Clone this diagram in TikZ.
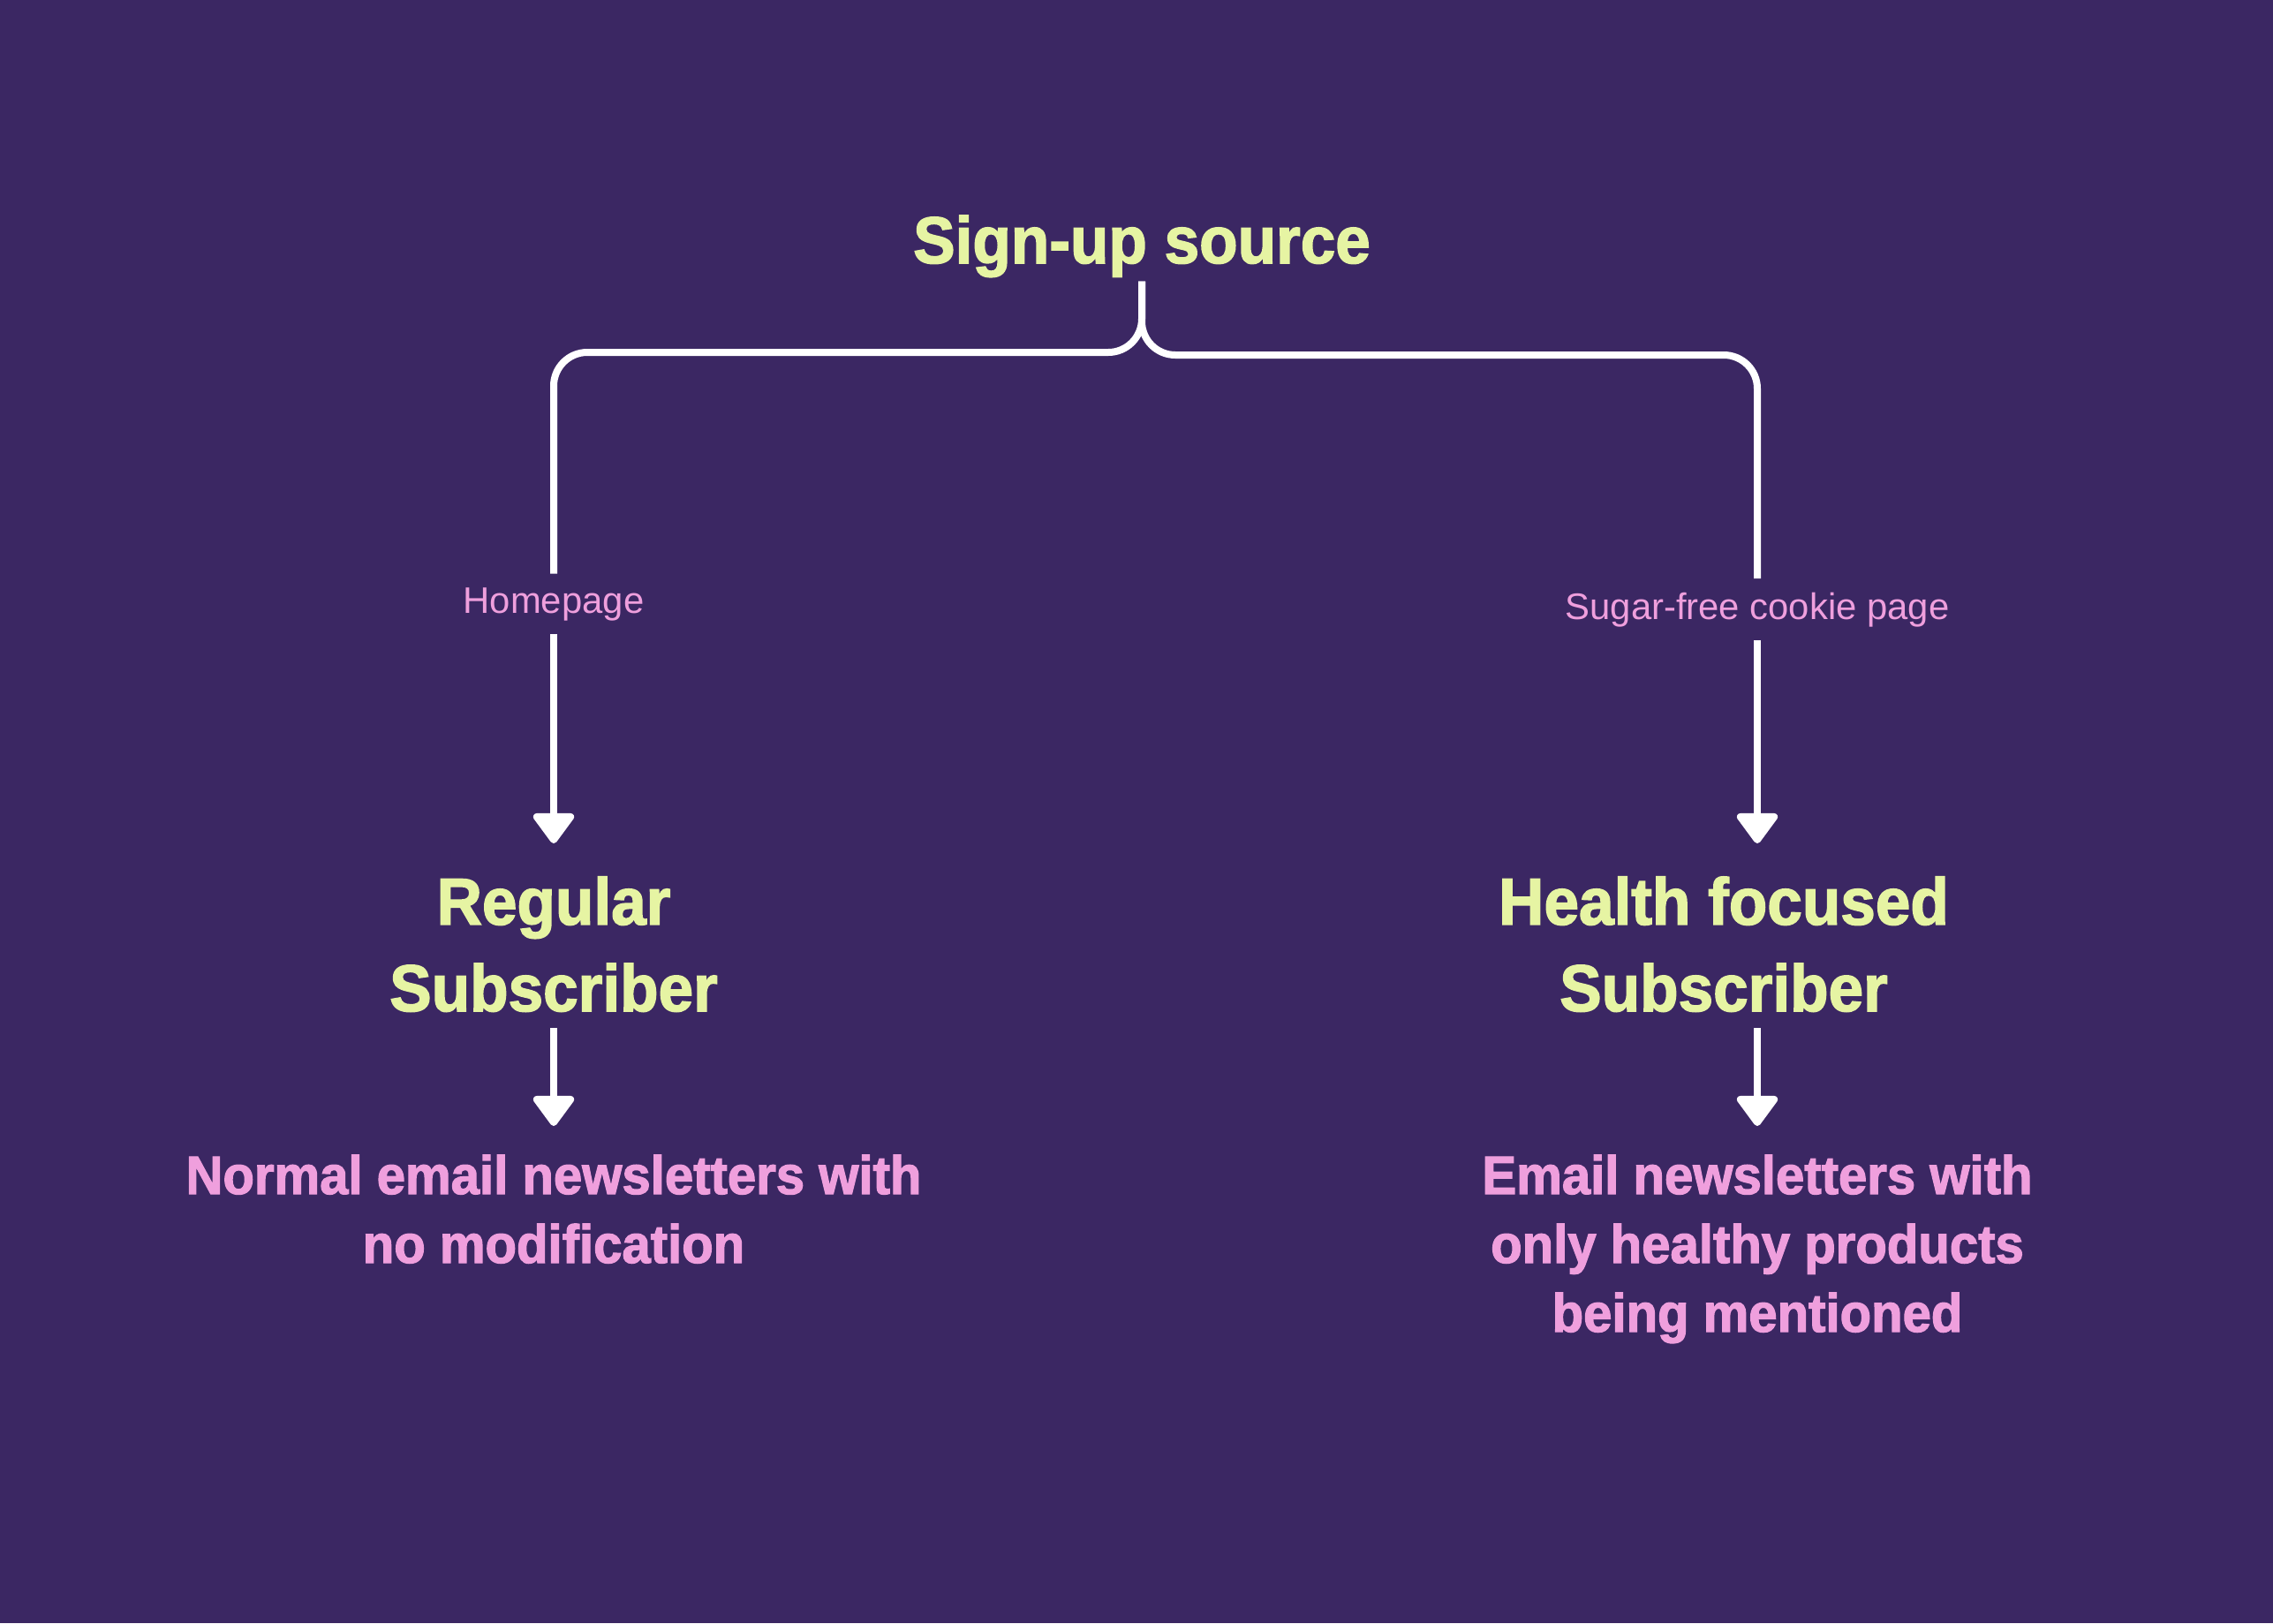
\documentclass[tikz,border=0pt]{standalone}
\usepackage{fontspec}
\setmainfont{Liberation Sans}
\newfontfamily\heavyfont{Liberation Sans}[UprightFont=* Bold, FakeStretch=0.95, FakeBold=2]
\usepackage{xcolor}
\usepackage{tikz}
\usetikzlibrary{positioning,arrows.meta,calc}
\definecolor{bgpurple}{HTML}{3B2763}
\definecolor{softlime}{HTML}{E6F4A3}
\definecolor{softpink}{HTML}{EF9FDD}

\begin{document}
\begin{tikzpicture}[
    head/.style={text=softlime, inner sep=0pt, align=center, font=\heavyfont\fontsize{21.3}{27.9}\selectfont},
    note/.style={text=softpink, inner sep=0pt, align=center, font=\heavyfont\fontsize{17.4}{22.2}\selectfont},
    tag/.style={text=softpink, inner xsep=0pt, inner ysep=1.5mm, font=\fontsize{11.9}{14}\selectfont},
    wire/.style={draw=white, line width=0.8mm},
    arr/.style={wire, -{Triangle[width=5.2mm, length=3.7mm, round]}}
]
    % Canvas
    \useasboundingbox (0,0) rectangle (25.74,-18.38);
    \fill[bgpurple] (0,0) rectangle (25.74,-18.38);

    % Root
    \node[head, inner sep=0.4mm, anchor=base] (title) at (12.93,-2.98) {Sign-up source};
    \coordinate (l_turn) at (6.27,-3.99);
    \coordinate (r_turn) at (19.90,-4.02);

    % Sources
    \node[tag, anchor=base] (homepage) at (6.27,-6.94) {Homepage};
    \node[tag, anchor=base] (cookie) at (19.90,-7.01) {Sugar-free cookie page};

    % Subscriber types
    \node[head, anchor=north] (regular) at (6.27,-9.92) {Regular\\Subscriber};
    \node[head, anchor=north] (health) at (19.52,-9.92) {Health focused\\Subscriber};

    % Newsletters
    \node[note, anchor=north] (normal) at (6.27,-13.07) {Normal email newsletters with\\no modification};
    \node[note, anchor=north] (email) at (19.90,-13.07) {Email newsletters with\\only healthy products\\being mentioned};

    % Connections
    \draw[wire, rounded corners=3.8mm] (title.south) |- (l_turn) [rounded corners=4.8mm] -- (homepage);
    \draw[wire, rounded corners=3.8mm] (title.south) |- (r_turn) [rounded corners=4.8mm] -- (cookie);
    \draw[arr, shorten >=3.7mm] (homepage) -- (regular);
    \draw[arr, shorten >=3.7mm] (cookie) -- (cookie |- health.north);
    \draw[arr, shorten <=1.8mm, shorten >=3.2mm] (regular) -- (normal);
    \draw[arr, shorten <=1.8mm, shorten >=3.2mm] (email |- health.south) -- (email);
\end{tikzpicture}
\end{document}
